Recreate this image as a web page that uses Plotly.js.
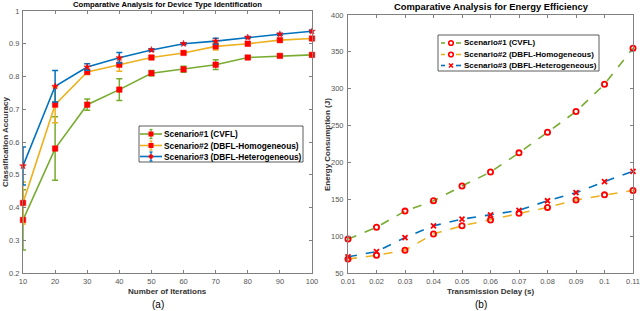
<!DOCTYPE html>
<html><head><meta charset="utf-8">
<script src="https://cdn.plot.ly/plotly-3.0.1.min.js"></script>
<style>html,body{margin:0;padding:0;background:#fff;}#c{width:640px;height:311px;}</style>
</head><body><div id="c"></div>
<script>
// Panel (a)
const iterations = [10,20,30,40,50,60,70,80,90,100];
const accCVFL = [0.362,0.580,0.714,0.760,0.810,0.822,0.836,0.858,0.863,0.866];
const errCVFL = [0.092,0.097,0.017,0.033,0.008,0.009,0.015,0.005,0.004,0.005];
const accHomo = [0.414,0.714,0.814,0.836,0.858,0.872,0.892,0.900,0.911,0.916];
const errHomo = [0.064,0.055,0.008,0.020,0.005,0.004,0.011,0.005,0.004,0.005];
const accHetero = [0.527,0.770,0.829,0.857,0.881,0.900,0.908,0.919,0.929,0.938];
const errHetero = [0.058,0.048,0.010,0.016,0.004,0.003,0.009,0.003,0.003,0.004];
// Panel (b)
const delays = [0.01,0.02,0.03,0.04,0.05,0.06,0.07,0.08,0.09,0.10,0.11];
const delayLabels = ['0.01','0.02','0.03','0.04','0.05','0.06','0.07','0.08','0.09','0.1','0.11'];
const energyCVFL = [96,112,134,148,168,187,213,241,269,306,355];
const energyHomo = [69,74,81,103,114,122,131,139,149,156,162];
const energyHetero = [72,79,98,114,123,129,135,148,159,174,188];
const names = ['Scenario#1 (CVFL)','Scenario#2 (DBFL-Homogeneous)','Scenario#3 (DBFL-Heterogeneous)'];

const cGreen = '#77ac30', cOrange = '#edb120', cBlue = '#0072bd', cRed = '#ff0000';
const F = 'Liberation Sans, Arial, sans-serif';
const W = 640, H = 311;
const px = v => v / W, py = v => 1 - v / H;

function errTrace(y, e, col, name, sym, sz) {
  return {x: iterations, y: y, name: name, type: 'scatter', mode: 'lines+markers', cliponaxis: false,
    line: {color: col, width: 1.6},
    marker: {color: cRed, symbol: sym, size: sz, line: {color: cRed, width: 0.5}},
    error_y: {type: 'data', array: e, visible: true, color: col, thickness: 1.5, width: 3},
    xaxis: 'x', yaxis: 'y', showlegend: false};
}
function dashTrace(y, col, name, sym, sz) {
  return {x: delays, y: y, name: name, type: 'scatter', mode: 'lines+markers', cliponaxis: false,
    line: {color: col, width: 1.6, dash: 'dash'},
    marker: {color: cRed, symbol: sym, size: sz, line: {color: cRed, width: 1.8}},
    xaxis: 'x2', yaxis: 'y2', showlegend: false};
}
const data = [
  errTrace(accCVFL, errCVFL, cGreen, names[0], 'square', 5.5),
  errTrace(accHomo, errHomo, cOrange, names[1], 'square', 5.5),
  errTrace(accHetero, errHetero, cBlue, names[2], 'star', 5),
  dashTrace(energyCVFL, cGreen, names[0], 'circle-open', 5.2),
  dashTrace(energyHomo, cOrange, names[1], 'circle-open', 5.2),
  dashTrace(energyHetero, cBlue, names[2], 'x-thin-open', 5),
];

const ax = {showgrid: false, zeroline: false, showline: true, linecolor: '#808080', linewidth: 1,
  mirror: 'ticks', ticks: 'inside', ticklen: 3, tickcolor: '#808080', ticklabeloverflow: 'allow',
  tickfont: {family: F, size: 7.5, color: '#555'}};

// custom legends (pixel geometry -> paper coords)
const shapes = [], anns = [];
function ln(x0, y0, x1, y1, col, w, dash) {
  shapes.push({type: 'line', xref: 'paper', yref: 'paper', x0: px(x0), y0: py(y0), x1: px(x1), y1: py(y1),
    line: {color: col, width: w, dash: dash || 'solid'}});
}
function box(x0, y0, x1, y1) {
  shapes.push({type: 'rect', xref: 'paper', yref: 'paper', x0: px(x0), y0: py(y1), x1: px(x1), y1: py(y0),
    line: {color: '#333', width: 0.8}, fillcolor: '#fff'});
}
function txt(s, x, y, size) {
  anns.push({text: '<b>' + s + '</b>', x: px(x), y: py(y), xref: 'paper', yref: 'paper', showarrow: false,
    xanchor: 'left', yanchor: 'middle', font: {family: F, size: size, color: '#000'}});
}
// legend (a)
box(139, 126, 303, 162);
const colsA = [cGreen, cOrange, cBlue];
const rowsA = [134, 145.5, 156.5];
rowsA.forEach((r, i) => {
  const c = colsA[i];
  ln(140, r, 162, r, c, 1.6);
  ln(151, r - 4.5, 151, r + 4.5, c, 1.3);
  ln(149.5, r - 4.5, 152.5, r - 4.5, c, 1.3);
  ln(149.5, r + 4.5, 152.5, r + 4.5, c, 1.3);
  if (i < 2) {
    shapes.push({type: 'rect', xref: 'paper', yref: 'paper', x0: px(148.5), x1: px(153.5), y0: py(r + 2.5), y1: py(r - 2.5),
      line: {width: 0}, fillcolor: cRed});
  } else {
    ln(148.5, r, 153.5, r, cRed, 1.3);
    ln(151, r - 2.5, 151, r + 2.5, cRed, 1.3);
    ln(149.3, r - 1.7, 152.7, r + 1.7, cRed, 1.2);
    ln(149.3, r + 1.7, 152.7, r - 1.7, cRed, 1.2);
  }
  txt(names[i], 162, r, 8.3);
});
// legend (b)
box(438, 35, 599, 71);
const rowsB = [43, 54.5, 65.5];
rowsB.forEach((r, i) => {
  const c = colsA[i];
  ln(441, r, 445, r, c, 1.6);
  ln(456, r, 461, r, c, 1.6);
  if (i < 2) {
    shapes.push({type: 'circle', xref: 'paper', yref: 'paper', x0: px(448.7), x1: px(453.3), y0: py(r + 2.3), y1: py(r - 2.3),
      line: {color: cRed, width: 1.6}});
  } else {
    ln(449, r - 2, 453, r + 2, cRed, 1.6);
    ln(449, r + 2, 453, r - 2, cRed, 1.6);
  }
  txt(names[i], 462, r, 8);
});

const center = {xref: 'paper', yref: 'paper', showarrow: false, xanchor: 'center', yanchor: 'middle'};
anns.push(
  Object.assign({text: '<b>Comparative Analysis for Device Type Identification</b>', x: px(167), y: py(5), font: {family: F, size: 7.7, color: '#000'}}, center),
  Object.assign({text: '<b>Comparative Analysis for Energy Efficiency</b>', x: px(491), y: py(7), font: {family: F, size: 9.4, color: '#000'}}, center),
  Object.assign({text: '<b>Number of Iterations</b>', x: px(167), y: py(291), font: {family: F, size: 8, color: '#333'}}, center),
  Object.assign({text: '<b>Transmission Delay (s)</b>', x: px(490), y: py(291), font: {family: F, size: 8, color: '#333'}}, center),
  Object.assign({text: '(a)', x: px(158), y: py(304), font: {family: F, size: 10, color: '#000'}}, center),
  Object.assign({text: '(b)', x: px(481), y: py(304), font: {family: F, size: 10, color: '#000'}}, center),
  Object.assign({text: '<b>Classification Accuracy</b>', x: px(5), y: py(142), textangle: -90, font: {family: F, size: 8, color: '#333'}}, center),
  Object.assign({text: '<b>Energy Consumption (J)</b>', x: px(327), y: py(145), textangle: -90, font: {family: F, size: 8, color: '#333'}}, center)
);

const layout = {
  width: W, height: H, margin: {l: 0, r: 0, t: 0, b: 0},
  paper_bgcolor: '#fff', plot_bgcolor: '#fff', font: {family: F},
  showlegend: false,
  xaxis: Object.assign({}, ax, {domain: [px(23), px(312)], range: [10, 100], tickvals: iterations, anchor: 'y', ticklabelstandoff: 1}),
  yaxis: Object.assign({}, ax, {domain: [py(273), py(11)], range: [0.2, 1], tickvals: [0.2,0.3,0.4,0.5,0.6,0.7,0.8,0.9,1], ticktext: ['0.2','0.3','0.4','0.5','0.6','0.7','0.8','0.9','1'], anchor: 'x', ticklabelstandoff: 1}),
  xaxis2: Object.assign({}, ax, {domain: [px(348), px(633)], range: [0.0099999, 0.1100001], tickvals: delays, ticktext: delayLabels, anchor: 'y2', ticklabelstandoff: 1}),
  yaxis2: Object.assign({}, ax, {domain: [py(273), py(15)], range: [50, 400], tickvals: [50,100,150,200,250,300,350,400], anchor: 'x2', ticklabelstandoff: 2}),
  shapes: shapes,
  annotations: anns
};
Plotly.newPlot('c', data, layout, {staticPlot: true, displayModeBar: false});
</script></body></html>
